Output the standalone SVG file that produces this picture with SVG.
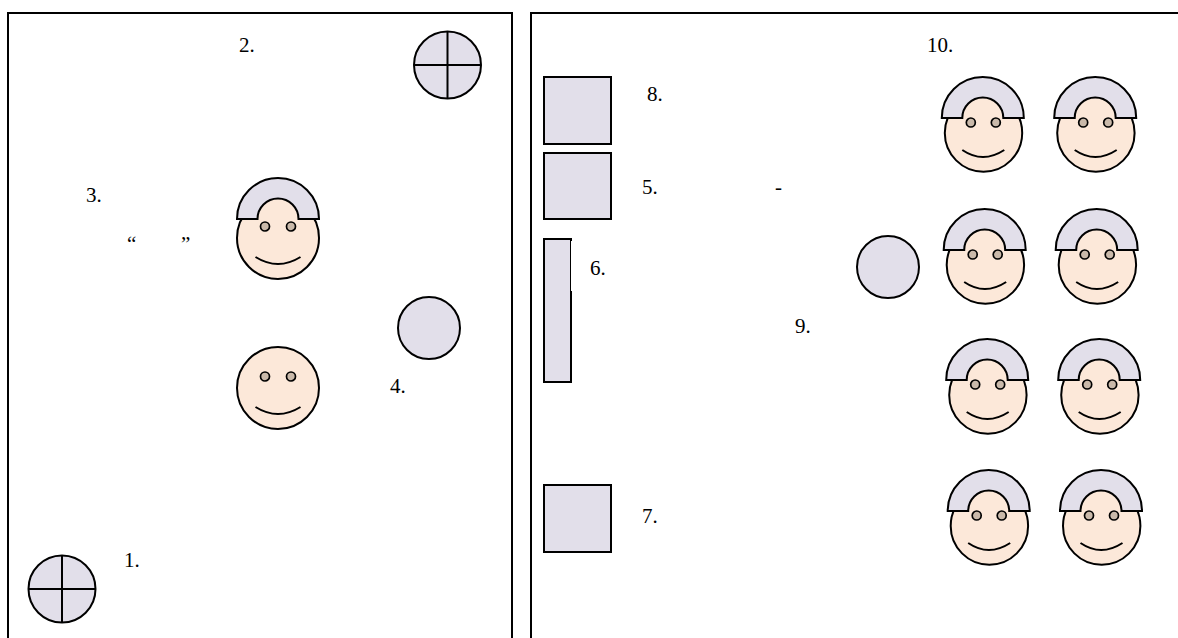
<svg xmlns="http://www.w3.org/2000/svg" width="1178" height="638" viewBox="0 0 1178 638">
<style>
.frame{fill:#fff;stroke:#000;stroke-width:2}
.p{fill:#e2dfea;stroke:#000;stroke-width:2}
.s{fill:#fce8d9;stroke:#000;stroke-width:2}
.e{fill:#c9b9aa;stroke:#000;stroke-width:1.700}
.l{fill:none;stroke:#000;stroke-width:2}
text{font-family:"Liberation Serif","Times New Roman",serif;font-size:21px;fill:#000}
</style>
<defs>
<g id="hat">
<path class="p" d="M-41 0A41 41 0 0 1 41 0H20.500A20.500 20.500 0 0 0 -20.500 0Z"/>
</g>
<g id="face">
<circle class="s" r="41"/>
<circle class="e" cx="-13" cy="-11.500" r="4.500"/>
<circle class="e" cx="13" cy="-11.500" r="4.500"/>
<path class="l" d="M-22.500 19Q0 33 22.500 19"/>
</g>
<g id="hatface-small">
<circle class="s" cx="0.700" cy="15" r="38.700"/>
<circle class="e" cx="-12" cy="4.500" r="4.500"/>
<circle class="e" cx="13" cy="4.500" r="4.500"/>
<path class="l" d="M-20.500 32Q0 46 21.500 32"/>
<use href="#hat"/>
</g>
<g id="wheel">
<circle class="p" r="33.500"/>
<path class="l" d="M-33.500 0H33.500M0 -33.500V33.500"/>
</g>
</defs>
<rect width="1178" height="638" fill="#fff"/>
<g id="frames">
<path id="frame-left" class="frame" d="M8 640V13H512V640"/>
<path id="frame-right" class="frame" d="M531 640V13H1180"/>
</g>
<g id="connectors"/>
<g id="wheel-top"><use href="#wheel" x="447.500" y="65"/></g>
<g id="wheel-bottom"><use href="#wheel" x="62" y="589"/></g>
<g id="face-hat-left"><use href="#face" x="278" y="238"/><use href="#hat" x="278" y="219"/></g>
<g id="face-left"><use href="#face" x="278" y="388"/></g>
<g id="circle-left"><circle class="p" cx="429" cy="328" r="31"/></g>
<g id="circle-right"><circle class="p" cx="888" cy="267" r="31"/></g>
<g id="rect-8"><rect class="p" x="544" y="77" width="67" height="67"/></g>
<g id="rect-5"><rect class="p" x="544" y="153" width="67" height="66"/></g>
<g id="rect-6"><rect class="p" x="544" y="239" width="27" height="143"/><rect x="571" y="241" width="1.200" height="50" fill="#fff"/></g>
<g id="rect-7"><rect class="p" x="544" y="485" width="67" height="67"/></g>
<g id="face-r1a"><use href="#hatface-small" x="982.800" y="118"/></g>
<g id="face-r1b"><use href="#hatface-small" x="1095.200" y="118"/></g>
<g id="face-r2a"><use href="#hatface-small" x="984.700" y="250"/></g>
<g id="face-r2b"><use href="#hatface-small" x="1096.700" y="250"/></g>
<g id="face-r3a"><use href="#hatface-small" x="987.200" y="380"/></g>
<g id="face-r3b"><use href="#hatface-small" x="1099.200" y="380"/></g>
<g id="face-r4a"><use href="#hatface-small" x="988.700" y="511"/></g>
<g id="face-r4b"><use href="#hatface-small" x="1101" y="511"/></g>
<g id="labels">
<text x="239" y="52">2.</text>
<text x="86" y="202">3.</text>
<text x="127" y="251">“</text>
<text x="181" y="251">”</text>
<text x="390" y="393">4.</text>
<text x="124" y="567">1.</text>
<text x="927" y="52">10.</text>
<text x="647" y="101">8.</text>
<text x="642" y="194">5.</text>
<text x="775" y="194">-</text>
<text x="590" y="275">6.</text>
<text x="795" y="333">9.</text>
<text x="642" y="523">7.</text>
</g>
</svg>
